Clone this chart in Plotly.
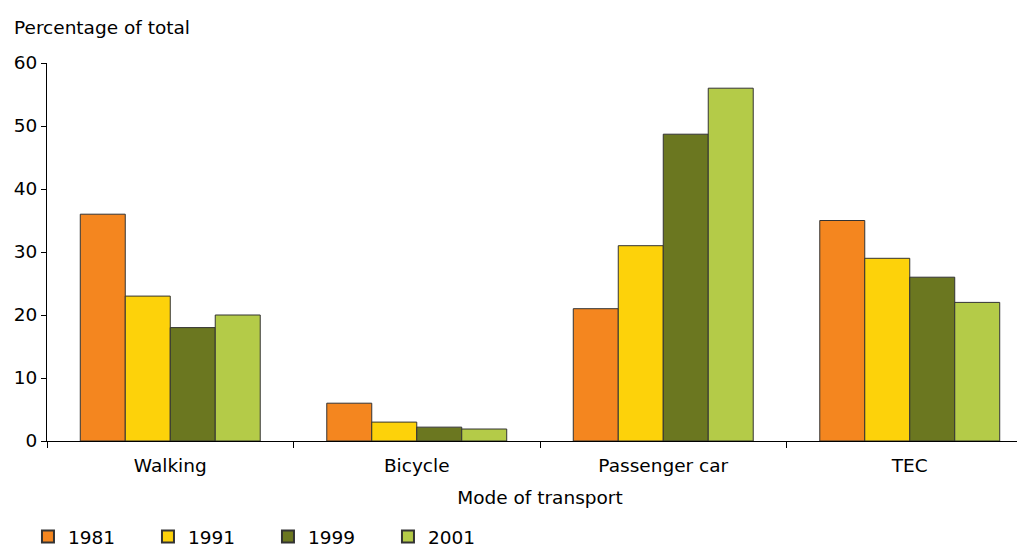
import plotly.graph_objects as go

categories = ["Walking", "Bicycle", "Passenger car", "TEC"]
years = ["1981", "1991", "1999", "2001"]
values_1981 = [36, 6, 21, 35]
values_1991 = [23, 3, 31, 29]
values_1999 = [18, 2.2, 48.7, 26]
values_2001 = [20, 1.9, 56, 22]
colors = ["#F4861F", "#FDD20A", "#6B7720", "#B4CB48"]

series = [values_1981, values_1991, values_1999, values_2001]
font = "DejaVu Sans, Verdana, sans-serif"
fs = 18.5

fig = go.Figure()
for y, vals, c in zip(years, series, colors):
    fig.add_trace(go.Bar(
        x=categories, y=vals, name=y,
        marker=dict(color=c, line=dict(color="#333333", width=1)),
    ))

fig.update_layout(
    width=1025, height=548,
    barmode="group", bargap=0.27, bargroupgap=0,
    plot_bgcolor="white", paper_bgcolor="white",
    margin=dict(l=39, r=0, t=55, b=115, autoexpand=False),
    font=dict(family=font, size=fs, color="#000000"),
    showlegend=True,
    legend=dict(orientation="h", x=-0.0193, xanchor="left", y=-0.254, yanchor="middle",
                entrywidth=75, entrywidthmode="pixels", font=dict(size=fs),
                itemsizing="constant", traceorder="normal"),
    xaxis=dict(range=[-0.5, 3.5], showline=True, linecolor="#000000", linewidth=1,
               ticks="outside", tickson="boundaries", ticklen=6, tickcolor="#000000",
               ticklabelstandoff=8,
               title=dict(text="Mode of transport", standoff=15, font=dict(size=fs)),
               tickfont=dict(size=fs), showgrid=False, automargin=False),
    yaxis=dict(range=[0, 60], dtick=10, showline=True, linecolor="#000000", linewidth=1,
               ticks="outside", ticklen=5, tickcolor="#000000", showgrid=False,
               zeroline=False, tickfont=dict(size=fs), automargin=False),
    annotations=[dict(text="Percentage of total", xref="paper", yref="paper",
                      x=-0.0355, y=1.0926, xanchor="left", yanchor="middle",
                      showarrow=False, font=dict(size=fs))],
)

fig.write_html("out.html")
